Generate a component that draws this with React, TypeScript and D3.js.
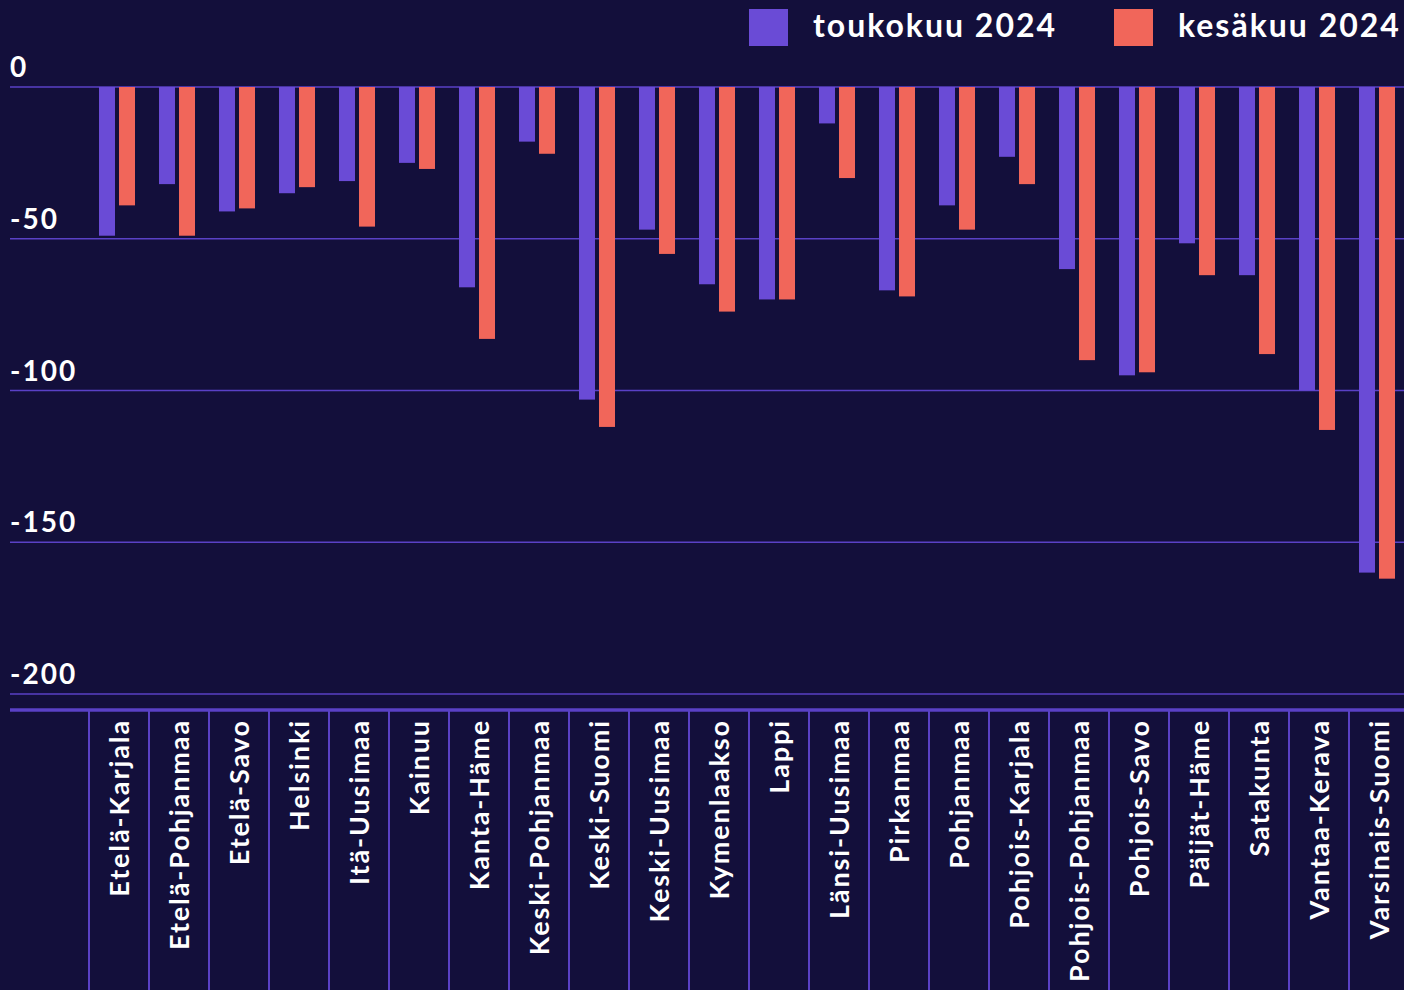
import React from "react";
import * as d3 from "d3";

const categories = [
  "Etelä-Karjala", "Etelä-Pohjanmaa", "Etelä-Savo", "Helsinki", "Itä-Uusimaa",
  "Kainuu", "Kanta-Häme", "Keski-Pohjanmaa", "Keski-Suomi", "Keski-Uusimaa",
  "Kymenlaakso", "Lappi", "Länsi-Uusimaa", "Pirkanmaa", "Pohjanmaa",
  "Pohjois-Karjala", "Pohjois-Pohjanmaa", "Pohjois-Savo", "Päijät-Häme",
  "Satakunta", "Vantaa-Kerava", "Varsinais-Suomi",
];
const toukokuu2024 = [-49, -32, -41, -35, -31, -25, -66, -18, -103, -47, -65, -70, -12, -67, -39, -23, -60, -95, -51.5, -62, -100, -160];
const kesakuu2024 = [-39, -49, -40, -33, -46, -27, -83, -22, -112, -55, -74, -70, -30, -69, -47, -32, -90, -94, -62, -88, -113, -162];
const seriesNames = ["toukokuu 2024", "kesäkuu 2024"];
const yTicks = [0, -50, -100, -150, -200];

const W = 1404;
const H = 990;
const BG = "#130f3b";
const PURPLE = "#6a4bd6";
const RED = "#f1665a";
const GRID = "#5a41c6";
const FONT = "Lato, 'Open Sans', sans-serif";

export default function App() {
  const seriesValues = [toukokuu2024, kesakuu2024];
  const colors = [PURPLE, RED];
  const x0 = d3.scaleBand<string>().domain(categories).range([89, 89 + categories.length * 60]).padding(0);
  const x1 = d3.scaleBand<string>().domain(seriesNames).range([10, 46]).paddingInner(0.2);
  const y = d3.scaleLinear().domain([-200, 0]).range([694, 87]);
  const axisY = 710;

  return (
    <svg width={W} height={H} style={{ position: "absolute", left: 0, top: 0, display: "block" }} fontFamily={FONT}>
      <rect x={0} y={0} width={W} height={H} fill={BG} />
      {/* gridlines + tick labels */}
      {yTicks.map((t) => (
        <g key={t}>
          <line x1={10} x2={W} y1={y(t)} y2={y(t)} stroke={GRID} strokeWidth={1.6} />
          <text x={10} y={y(t) - 10} fill="#ffffff" fontSize={28} fontWeight={700} letterSpacing={2}>
            {t}
          </text>
        </g>
      ))}
      {/* bars */}
      {categories.map((c, i) => (
        <g key={c}>
          {seriesNames.map((s, k) => {
            const v = seriesValues[k][i];
            return (
              <rect
                key={s}
                x={(x0(c) as number) + (x1(s) as number)}
                y={y(0)}
                width={x1.bandwidth()}
                height={y(v) - y(0)}
                fill={colors[k]}
              />
            );
          })}
        </g>
      ))}
      {/* x axis */}
      <line x1={10} x2={W} y1={axisY} y2={axisY} stroke={GRID} strokeWidth={3.5} />
      {categories.map((c) => (
        <line key={"t" + c} x1={(x0(c) as number)} x2={(x0(c) as number)} y1={axisY} y2={H} stroke={GRID} strokeWidth={2} />
      ))}
      {categories.map((c) => {
        const cx = (x0(c) as number) + x0.bandwidth() / 2 + 10;
        return (
          <text
            key={"l" + c}
            transform={`translate(${cx},${719}) rotate(-90)`}
            textAnchor="end"
            fill="#ffffff"
            fontSize={27}
            fontWeight={700}
            letterSpacing={1.9}
          >
            {c}
          </text>
        );
      })}
      {/* legend */}
      {seriesNames.map((s, k) => {
        const lx = [749, 1114][k];
        return (
          <g key={"lg" + s}>
            <rect x={lx} y={9} width={39} height={37} fill={colors[k]} />
            <text x={lx + 64} y={37} fill="#ffffff" fontSize={32} fontWeight={700} letterSpacing={2}>
              {s}
            </text>
          </g>
        );
      })}
    </svg>
  );
}
